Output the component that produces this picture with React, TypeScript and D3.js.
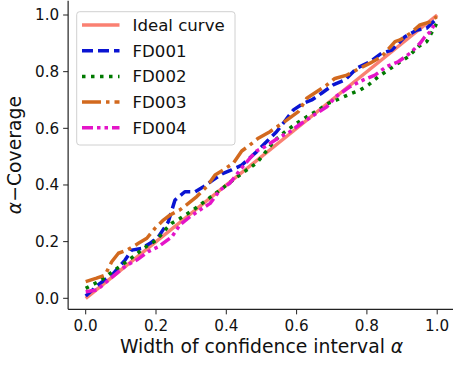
import React from 'react';
import * as d3 from 'd3';

// values (x = interval width, y = coverage)
const idealX = [0, 1];
const idealY = [0, 1];

const fd001X = [0.0, 0.041, 0.079, 0.112, 0.131, 0.159, 0.183, 0.207, 0.235, 0.254, 0.282, 0.311, 0.335, 0.363, 0.391, 0.415, 0.444, 0.486, 0.543, 0.562, 0.591, 0.619, 0.643, 0.671, 0.704, 0.738, 0.771, 0.809, 0.842, 0.871, 0.908, 0.942, 0.97, 0.999];
const fd001Y = [0.008, 0.053, 0.088, 0.135, 0.17, 0.176, 0.194, 0.217, 0.27, 0.347, 0.376, 0.376, 0.394, 0.418, 0.441, 0.453, 0.47, 0.517, 0.588, 0.618, 0.665, 0.688, 0.7, 0.724, 0.753, 0.771, 0.812, 0.835, 0.865, 0.876, 0.923, 0.947, 0.953, 0.988];

const fd002X = [0.0, 0.041, 0.079, 0.102, 0.135, 0.164, 0.202, 0.23, 0.245, 0.268, 0.306, 0.344, 0.382, 0.42, 0.458, 0.486, 0.505, 0.539, 0.567, 0.6, 0.629, 0.662, 0.69, 0.714, 0.757, 0.78, 0.804, 0.832, 0.861, 0.889, 0.918, 0.946, 0.97, 0.994, 1.0];
const fd002Y = [0.035, 0.062, 0.097, 0.117, 0.147, 0.176, 0.206, 0.247, 0.265, 0.282, 0.312, 0.347, 0.382, 0.418, 0.453, 0.477, 0.506, 0.559, 0.588, 0.618, 0.641, 0.665, 0.688, 0.7, 0.724, 0.735, 0.753, 0.782, 0.806, 0.83, 0.853, 0.888, 0.906, 0.959, 0.976];

const fd003X = [0.0, 0.031, 0.055, 0.074, 0.093, 0.117, 0.15, 0.174, 0.197, 0.221, 0.24, 0.268, 0.292, 0.316, 0.344, 0.368, 0.391, 0.42, 0.444, 0.467, 0.491, 0.524, 0.572, 0.605, 0.629, 0.657, 0.686, 0.709, 0.743, 0.78, 0.809, 0.842, 0.88, 0.894, 0.923, 0.951, 0.98, 0.999];
const fd003Y = [0.059, 0.071, 0.082, 0.129, 0.159, 0.17, 0.194, 0.212, 0.247, 0.276, 0.294, 0.312, 0.335, 0.359, 0.394, 0.435, 0.453, 0.477, 0.52, 0.541, 0.565, 0.588, 0.629, 0.659, 0.706, 0.729, 0.753, 0.776, 0.788, 0.812, 0.83, 0.853, 0.906, 0.912, 0.935, 0.965, 0.976, 0.994];

const fd004X = [0.0, 0.031, 0.06, 0.088, 0.117, 0.145, 0.178, 0.207, 0.245, 0.268, 0.297, 0.325, 0.354, 0.382, 0.41, 0.439, 0.467, 0.486, 0.51, 0.553, 0.581, 0.614, 0.657, 0.686, 0.712, 0.752, 0.79, 0.823, 0.856, 0.889, 0.923, 0.951, 0.965, 0.98, 0.994];
const fd004Y = [0.023, 0.029, 0.059, 0.088, 0.117, 0.135, 0.165, 0.182, 0.217, 0.259, 0.288, 0.312, 0.335, 0.382, 0.406, 0.453, 0.494, 0.52, 0.535, 0.57, 0.588, 0.618, 0.653, 0.676, 0.712, 0.747, 0.771, 0.788, 0.818, 0.835, 0.865, 0.9, 0.923, 0.941, 0.971];

const xTicks = [0, 0.2, 0.4, 0.6, 0.8, 1.0];
const yTicks = [0, 0.2, 0.4, 0.6, 0.8, 1.0];

const series = [
  { name: 'Ideal curve', xs: idealX, ys: idealY, color: '#fa8072', dash: null },
  { name: 'FD001', xs: fd001X, ys: fd001Y, color: '#0a14d2', dash: '11,5' },
  { name: 'FD002', xs: fd002X, ys: fd002Y, color: '#007a00', dash: '3.5,5.5' },
  { name: 'FD003', xs: fd003X, ys: fd003Y, color: '#d2691e', dash: '19,5,3.5,5' },
  { name: 'FD004', xs: fd004X, ys: fd004Y, color: '#e414c8', dash: '11,4,3.5,4,3.5,4' },
];

const W = 453;
const H = 365;
const font = 'DejaVu Sans, sans-serif';

export default function App() {
  const x = d3.scaleLinear().domain([0, 1]).range([85.7, 437.2]);
  const y = d3.scaleLinear().domain([0, 1]).range([298.3, 15]);
  const left = x(-0.05);
  const bottom = y(-0.039);
  const top = y(1.05);

  const line = d3.line<[number, number]>().x(d => x(d[0])).y(d => y(d[1]));

  return (
    <div style={{ position: 'absolute', left: 0, top: 0 }}>
      <svg width={W} height={H} style={{ display: 'block', background: '#fff' }} fontFamily={font}>
        {series.map(s => (
          <path
            key={s.name}
            d={line(s.xs.map((v, i) => [v, s.ys[i]] as [number, number])) || ''}
            fill="none"
            stroke={s.color}
            strokeWidth={3.5}
            strokeDasharray={s.dash || undefined}
            strokeLinejoin="round"
          />
        ))}

        {/* spines */}
        <line x1={left} x2={W} y1={bottom} y2={bottom} stroke="#222" strokeWidth={1.2} />
        <line x1={left} x2={left} y1={top} y2={bottom} stroke="#222" strokeWidth={1.2} />

        {xTicks.map(t => (
          <g key={'x' + t} transform={`translate(${x(t)},${bottom})`}>
            <line y2={5} stroke="#222" strokeWidth={1} />
            <text y={21.5} textAnchor="middle" fontSize={15.2} fill="#111">{t.toFixed(1)}</text>
          </g>
        ))}
        {yTicks.map(t => (
          <g key={'y' + t} transform={`translate(${left},${y(t)})`}>
            <line x2={-5} stroke="#222" strokeWidth={1} />
            <text x={-9} dy="0.36em" textAnchor="end" fontSize={15.2} fill="#111">{t.toFixed(1)}</text>
          </g>
        ))}

        <text x={(left + W) / 2 + 1} y={352.5} textAnchor="middle" fontSize={18.8} fill="#111">
          Width of confidence interval <tspan fontStyle="italic">α</tspan>
        </text>
        <text transform={`translate(21,${(top + bottom) / 2}) rotate(-90)`} textAnchor="middle" fontSize={18.8} fill="#111">
          <tspan fontStyle="italic">α</tspan>−Coverage
        </text>

        {/* legend */}
        <g>
          <rect x={76.7} y={11.7} width={158.3} height={133.3} rx={3} fill="#fff" fillOpacity={0.8} stroke="#d0d0d0" strokeWidth={1} />
          {series.map((s, i) => {
            const ly = 25 + i * 25.7;
            return (
              <g key={'l' + s.name}>
                <line x1={82} x2={119.5} y1={ly} y2={ly} stroke={s.color} strokeWidth={3.5} strokeDasharray={s.dash || undefined} />
                <text x={132.5} y={ly} dy="0.36em" fontSize={16.6} fill="#111">{s.name}</text>
              </g>
            );
          })}
        </g>
      </svg>
    </div>
  );
}
